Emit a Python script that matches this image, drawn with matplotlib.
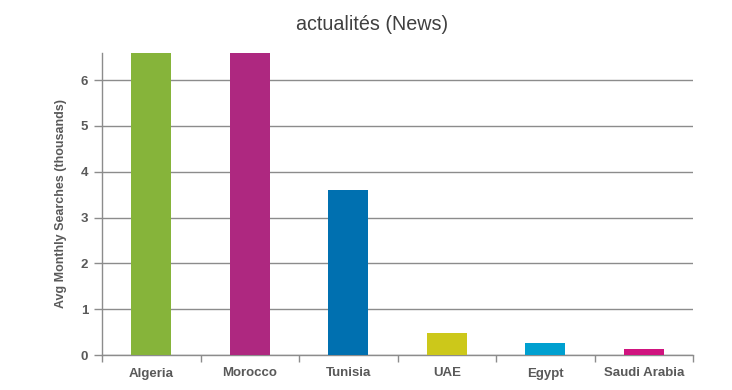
import matplotlib
matplotlib.use("Agg")
import matplotlib.pyplot as plt
import numpy as np

categories = ["Algeria", "Morocco", "Tunisia", "UAE", "Egypt", "Saudi Arabia"]
values = [6.6, 6.6, 3.6, 0.48, 0.26, 0.14]
colors = ["#86B43A", "#AE2880", "#0070B0", "#CCC81A", "#00A0D0", "#D0147F"]
yticks = [0, 1, 2, 3, 4, 5, 6]

plt.rcParams['font.family'] = ['Liberation Sans', 'DejaVu Sans']

fig = plt.figure(figsize=(7.32, 3.9), dpi=100)
ax = fig.add_axes([102/732, 1-355/390, (693-102)/732, (355-53)/390])

x = np.arange(len(categories))
ax.bar(x, values, width=0.41, color=colors, zorder=3)
ax.set_xlim(-0.5, len(categories)-0.5)
ax.set_ylim(0, 6.59)
ax.set_yticks(yticks)
ax.set_yticklabels([str(t) for t in yticks])
ax.yaxis.grid(True, color="#8c8c8c", linewidth=1, zorder=0)

ax.set_xticks(x)
ax.set_xticklabels(categories, fontweight="bold", color="#595959", fontsize=9.5)
ax.tick_params(axis="x", length=0, pad=9)
ax.set_xticks(np.arange(len(categories)+1) - 0.5, minor=True)
ax.tick_params(axis="x", which="minor", length=5, color="#8c8c8c", width=1)
ax.tick_params(axis="y", length=6, color="#8c8c8c", width=1, labelsize=9.5, labelcolor="#595959", pad=4)
for lbl in ax.get_yticklabels():
    lbl.set_fontweight("bold")

for s in ["top", "right"]:
    ax.spines[s].set_visible(False)
for s in ["left", "bottom"]:
    ax.spines[s].set_color("#8c8c8c")
    ax.spines[s].set_linewidth(1)

ax.set_ylabel("Avg Monthly Searches (thousands)", fontweight="bold", color="#595959", fontsize=9, labelpad=10)
fig.text(372/732, 1-25/390, "actualités (News)", ha="center", va="center", fontsize=14.2, color="#404040")

fig.savefig("out.png", dpi=100)
